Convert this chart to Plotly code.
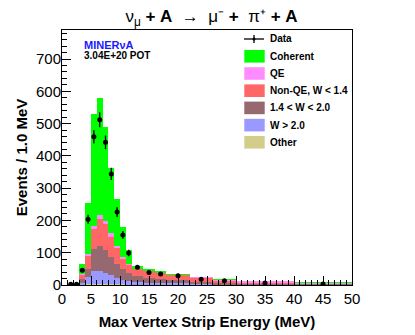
import plotly.graph_objects as go

# bins (MeV) and stacked MC components, events / 1.0 MeV
bin_lo = [1, 2, 3, 4, 5, 6, 7, 8, 9, 10, 11, 12, 14, 16, 18, 22, 26, 30, 40]
bin_hi = [2, 3, 4, 5, 6, 7, 8, 9, 10, 11, 12, 14, 16, 18, 22, 26, 30, 40, 50]

other = [0.3, 0.5, 1, 2, 3, 3, 3, 2.5, 2, 2, 1.5, 1.5, 1, 1, 1, 0.8, 0.6, 0.5, 0.4]
w_gt_20 = [0.3, 0.7, 5, 23, 39, 39, 35, 27.5, 21, 15, 10.5, 7.5, 6, 5, 4, 3.2, 2.4, 2, 1.6]
w_14_20 = [0.2, 0.6, 12, 25, 68, 80, 70, 58, 43, 33, 26, 19, 15, 12, 9, 6, 4, 2.5, 2]
nonqe = [0.2, 0.7, 14, 42, 65, 82, 81, 62, 49, 32, 25, 22, 22, 21, 18, 12, 8, 4, 2]
qe = [0, 0.1, 1, 4, 8, 13, 10, 10, 7, 4, 2, 1, 1, 1, 1, 1, 0.5, 0.5, 0.2]
coherent = [0.3, 0.6, 31, 157, 346, 363, 291, 203, 143, 94, 43, 9, 2, 1.5, 0.5, 0, 0.5, 0, 0.3]

data = [2, 2, 46, 204, 459, 512, 442, 344, 226, 155, 99, 55, 39, 34, 29, 18, 13, 6, 3]
data_err = [1.5, 1.5, 7, 14, 21, 23, 21, 19, 15, 12, 10, 5.5, 4.5, 4, 2.7, 2.1, 1.8, 0.8, 0.6]

labels = ['Coherent', 'QE', 'Non-QE, W < 1.4', '1.4 < W < 2.0', 'W > 2.0', 'Other']
colors = ['#00ff00', '#ff8cff', '#ff6666', '#966870', '#9999ff', '#d2cd8a']

# page has an 8px body margin, so the figure is a bit smaller and everything is shifted
OFF = 8
W, H = 415 - OFF, 335 - OFF
L, T = 62 - OFF, 30 - OFF
R = W - L - 290
B = H - T - 255

centers = [(a + b) / 2 for a, b in zip(bin_lo, bin_hi)]
widths = [b - a for a, b in zip(bin_lo, bin_hi)]

fig = go.Figure()

# stack from bottom up
stack = [(other, 5), (w_gt_20, 4), (w_14_20, 3), (nonqe, 2), (qe, 1), (coherent, 0)]
for vals, i in stack:
    fig.add_trace(go.Bar(
        x=centers, y=vals, width=widths,
        marker=dict(color=colors[i], line=dict(width=0)),
        name=labels[i], showlegend=False,
    ))

fig.add_trace(go.Scatter(
    x=centers, y=data, mode='markers',
    marker=dict(color='black', size=5),
    error_y=dict(type='data', array=data_err, color='black', thickness=1.3, width=0),
    showlegend=False,
))


def px(xp, yp):
    # page pixel -> paper coords
    xp, yp = xp - OFF, yp - OFF
    return (xp - L) / (W - L - R), (H - B - yp) / (H - T - B)


shapes = []
annotations = []

# legend by hand, ROOT style
x0, y0 = px(244, 39)
x1, _ = px(264, 39)
shapes.append(dict(type='line', xref='paper', yref='paper', x0=x0, x1=x1, y0=y0, y1=y0,
                   line=dict(color='black', width=1.3)))
xm, ya = px(254, 35)
_, yb = px(254, 43)
shapes.append(dict(type='line', xref='paper', yref='paper', x0=xm, x1=xm, y0=ya, y1=yb,
                   line=dict(color='black', width=1.3)))
xc0, yc0 = px(252.5, 37.5)
xc1, yc1 = px(255.5, 40.5)
shapes.append(dict(type='circle', xref='paper', yref='paper', x0=xc0, x1=xc1, y0=yc0, y1=yc1,
                   fillcolor='black', line=dict(color='black', width=0)))
tx, ty = px(268, 39)
annotations.append(dict(x=tx, y=ty, xref='paper', yref='paper', text='<b>Data</b>',
                        showarrow=False, xanchor='left', yanchor='middle',
                        font=dict(size=10, color='black')))

for k, (lab, col) in enumerate(zip(labels, colors)):
    yc = 56.3 + k * 17.2
    bx0, by0 = px(244.3, yc - 6.3)
    bx1, by1 = px(264.7, yc + 6.3)
    shapes.append(dict(type='rect', xref='paper', yref='paper', x0=bx0, x1=bx1, y0=by0, y1=by1,
                       fillcolor=col, line=dict(width=0)))
    tx, ty = px(268, yc)
    annotations.append(dict(x=tx, y=ty, xref='paper', yref='paper', text='<b>' + lab + '</b>',
                            showarrow=False, xanchor='left', yanchor='middle',
                            font=dict(size=10, color='black')))

tx, ty = px(82, 44.7)
annotations.append(dict(x=tx, y=ty, xref='paper', yref='paper', text='<b>MINERνA</b>',
                        showarrow=False, xanchor='left', yanchor='middle',
                        font=dict(size=11, color='#1a1aff')))
tx, ty = px(82, 55)
annotations.append(dict(x=tx, y=ty, xref='paper', yref='paper', text='<b>3.04E+20 POT</b>',
                        showarrow=False, xanchor='left', yanchor='middle',
                        font=dict(size=10, color='black')))

font = 'Liberation Sans, Arial, sans-serif'

fig.update_layout(
    width=W, height=H,
    margin=dict(l=L, r=R, t=T, b=B, autoexpand=False),
    paper_bgcolor='white', plot_bgcolor='white',
    barmode='stack',
    font=dict(family=font, color='black'),
    title=dict(
        text='ν<sub>μ</sub> <b>+ A</b>  →  μ⁻ <b>+</b>  π⁺ <b>+ A</b>',
        x=0.5, xanchor='center', y=1 - (16 - OFF) / H, yanchor='middle', yref='container',
        font=dict(size=17, family=font),
    ),
    xaxis=dict(
        range=[0, 50], dtick=5, tick0=0,
        ticks='inside', ticklen=9, tickwidth=1, tickcolor='black',
        minor=dict(dtick=1, ticks='inside', ticklen=5, tickcolor='black'),
        showline=True, linecolor='black', linewidth=1, mirror=True,
        showgrid=False, zeroline=False, automargin=False,
        tickfont=dict(size=15),
        title=dict(text='<b>Max Vertex Strip Energy (MeV)</b>', font=dict(size=15), standoff=10),
    ),
    yaxis=dict(
        range=[0, 790], dtick=100, tick0=0,
        ticks='inside', ticklen=9, tickwidth=1, tickcolor='black',
        minor=dict(dtick=20, ticks='inside', ticklen=5, tickcolor='black'),
        showline=True, linecolor='black', linewidth=1, mirror=True,
        showgrid=False, zeroline=False, automargin=False,
        tickfont=dict(size=15), ticklabelstandoff=-3,
        title=dict(text='<b>Events / 1.0 MeV</b>', font=dict(size=15), standoff=4),
    ),
    shapes=shapes,
    annotations=annotations,
)

fig.write_html("out.html")
